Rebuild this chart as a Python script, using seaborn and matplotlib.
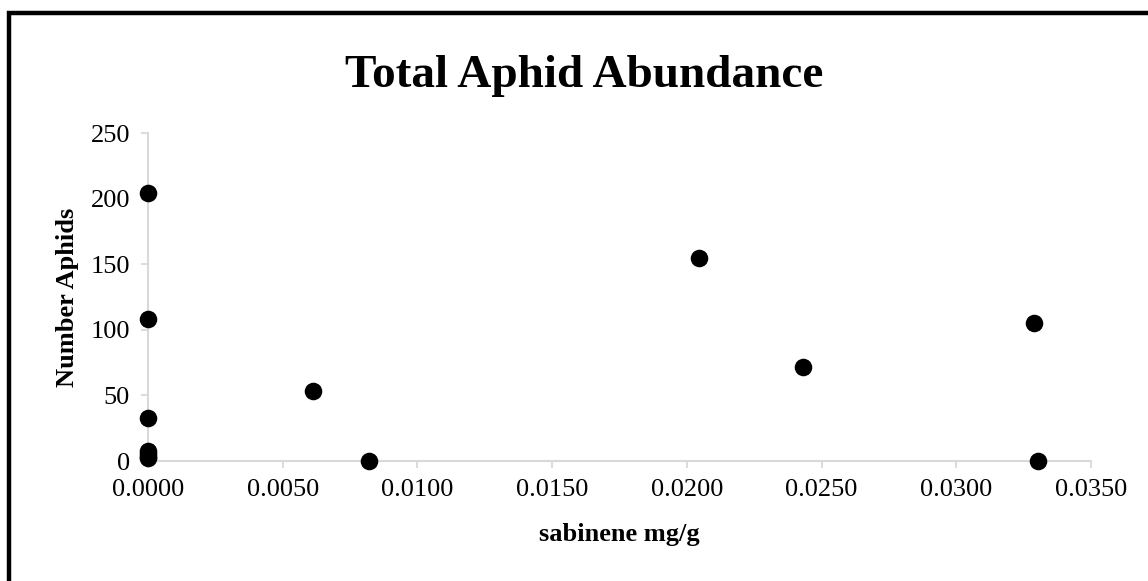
import matplotlib
matplotlib.use('Agg')
import matplotlib.pyplot as plt
import matplotlib.patches as patches
import seaborn as sns
import pandas as pd

# data
sabinene = [0.0, 0.0, 0.0, 0.0, 0.0, 0.0, 0.0,
            0.00611, 0.00822, 0.02045, 0.0243, 0.03287, 0.03302]
aphids = [204, 108, 33, 8, 5, 3, 2,
          53, 0, 155, 72, 105, 0]
x_ticks = [0.0, 0.005, 0.010, 0.015, 0.020, 0.025, 0.030, 0.035]
y_ticks = [0, 50, 100, 150, 200, 250]

df = pd.DataFrame({'sabinene mg/g': sabinene, 'Number Aphids': aphids})

sns.set_style('white')
plt.rcParams['font.family'] = ['Liberation Serif', 'DejaVu Serif']
plt.rcParams['text.color'] = 'black'
plt.rcParams['axes.labelcolor'] = 'black'

fig = plt.figure(figsize=(11.48, 5.81), dpi=100)
ax = fig.add_axes([148 / 1148, 1 - 461 / 581, (1091 - 148) / 1148, (461 - 133) / 581])

sns.scatterplot(data=df, x='sabinene mg/g', y='Number Aphids', ax=ax,
                color='black', s=160, edgecolor='black', linewidth=0, clip_on=False, zorder=3)

ax.set_xlim(0, 0.035)
ax.set_ylim(0, 250)
ax.set_xticks(x_ticks)
ax.set_yticks(y_ticks)
ax.set_xticklabels([f'{t:.4f}' for t in x_ticks])
ax.set_yticklabels([str(t) for t in y_ticks])
ax.tick_params(axis='x', labelsize=19, colors='#d9d9d9', labelcolor='black',
               length=5, width=1.3, direction='out', pad=8, bottom=True)
ax.tick_params(axis='y', labelsize=19, colors='#d9d9d9', labelcolor='black',
               length=5, width=1.3, direction='out', pad=8, left=True)

for side in ['top', 'right']:
    ax.spines[side].set_visible(False)
for side in ['left', 'bottom']:
    ax.spines[side].set_color('#d9d9d9')
    ax.spines[side].set_linewidth(1.5)

ax.set_xlabel('sabinene mg/g', fontsize=19, fontweight='bold', labelpad=16)
ax.set_ylabel('Number Aphids', fontsize=19, fontweight='bold', labelpad=8)

fig.text(584 / 1148, 1 - 76 / 581, 'Total Aphid Abundance', ha='center', va='center',
         fontsize=34, fontweight='bold')

# black frame, cropped on the right and bottom
frame = patches.Rectangle((8.5 / 1148, -0.1), 1.2, 1.1 - 13 / 581,
                          transform=fig.transFigure, fill=False,
                          edgecolor='black', linewidth=3.2, clip_on=False)
fig.patches.append(frame)

fig.savefig('out.png', dpi=100)
